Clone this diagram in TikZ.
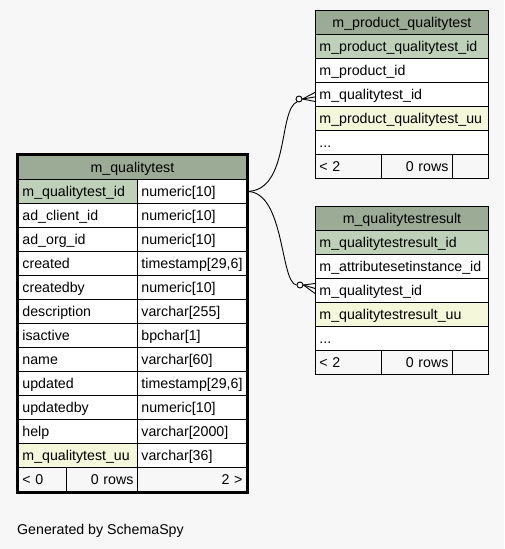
\documentclass[tikz,border=0pt]{standalone}
\usepackage{fontspec}
\setmainfont{Liberation Sans}
\usetikzlibrary{calc, fit}
\usetikzlibrary{positioning}
\definecolor{background}{HTML}{F7F7F7}
\definecolor{tablehead}{HTML}{9BAB96}
\definecolor{primarykey}{HTML}{BED1B8}
\definecolor{indexed}{HTML}{F4F7DA}
\tikzset{
  cell/.style={draw, line width=0.9pt, fill=white, anchor=north west, minimum height=24pt,
    inner xsep=4pt, inner ysep=0pt, text height=12pt, text depth=2pt, align=left},
  headcell/.style={cell, fill=tablehead, align=center},
  footcell/.style={cell, fill=background},
  dot/.style={circle, draw, line width=0.9pt, fill=white, inner sep=0pt, minimum size=6pt},
  conn/.style={line width=0.9pt}
}
% one column row of the main table
\newcommand\colrow[5]{
  \node[cell, fill=#5, minimum width=119pt, text width=111pt] (#2) at (18,#1) {#3};
  \node[cell, minimum width=109pt, text width=101pt] (#2type) at (137,#1) {#4};
}
% the two tables that refer to m_qualitytest
\newcommand\childtable[7]{
  \begin{scope}[xshift=#1, yshift=#2]
      \node[headcell, minimum width=173pt, text width=165pt] (#3head) at (0,0) {#4};
      \node[cell, fill=primarykey, minimum width=173pt, text width=165pt] (#3pk) at (0,24) {#5};
      \node[cell, minimum width=173pt, text width=165pt] (#3col) at (0,48) {#6};
      \node[cell, minimum width=173pt, text width=165pt] (#3qt) at (0,72) {m\_qualitytest\_id};
      \node[cell, fill=indexed, minimum width=173pt, text width=165pt] (#3uu) at (0,96) {#7};
      \node[cell, minimum width=173pt, text width=165pt] (#3more) at (0,120) {...};
      \node[footcell, minimum width=66pt, text width=58pt] (#3prev) at (0,144) {< 2};
      \node[footcell, minimum width=71pt, text width=63pt, align=right] (#3rows) at (66,144) {0 rows};
      \node[footcell, minimum width=36pt, text width=28pt] (#3next) at (137,144) {};
  \end{scope}
}

\begin{document}
\begin{tikzpicture}[x=1pt, y=-1pt, font=\fontsize{14.2}{16}\selectfont]
    \fill[background] (0,0) rectangle (504,549);
    \useasboundingbox (0,0) rectangle (504,549);

    \childtable{315pt}{-10pt}{pqt}{m\_product\_qualitytest}{m\_product\_qualitytest\_id}{m\_product\_id}{m\_product\_qualitytest\_uu}
    \childtable{315pt}{-206pt}{qtr}{m\_qualitytestresult}{m\_qualitytestresult\_id}{m\_attributesetinstance\_id}{m\_qualitytestresult\_uu}

    \node[headcell, minimum width=228pt, text width=220pt] (qthead) at (18,155) {m\_qualitytest};
    \colrow{179}{qtid}{m\_qualitytest\_id}{numeric[10]}{primarykey}
    \colrow{203}{qtclient}{ad\_client\_id}{numeric[10]}{white}
    \colrow{227}{qtorg}{ad\_org\_id}{numeric[10]}{white}
    \colrow{251}{qtcreated}{created}{timestamp[29,6]}{white}
    \colrow{275}{qtcreatedby}{createdby}{numeric[10]}{white}
    \colrow{299}{qtdesc}{description}{varchar[255]}{white}
    \colrow{323}{qtactive}{isactive}{bpchar[1]}{white}
    \colrow{347}{qtname}{name}{varchar[60]}{white}
    \colrow{371}{qtupdated}{updated}{timestamp[29,6]}{white}
    \colrow{395}{qtupdatedby}{updatedby}{numeric[10]}{white}
    \colrow{419}{qthelp}{help}{varchar[2000]}{white}
    \colrow{443}{qtuu}{m\_qualitytest\_uu}{varchar[36]}{indexed}
    \node[footcell, minimum width=48pt, text width=40pt] (qtprev) at (18,467) {< 0};
    \node[footcell, minimum width=71pt, text width=63pt, align=right] (qtrows) at (66,467) {0 rows};
    \node[footcell, minimum width=109pt, text width=101pt, align=right] (qtnext) at (137,467) {2 >};
    \node[draw, line width=2.5pt, inner sep=1.2pt, fit=(qthead)(qtnext)] (qtframe) {};

    \node[anchor=base west, inner sep=0pt] (genby) at (17,534) {Generated by SchemaSpy};

    % relationships
    \node[dot] (pqtdot) at (299,99) {};
    \node[dot] (qtrdot) at (300,285) {};
    \draw[conn] (qtidtype.east) .. controls (290,191) and (278,110) .. (pqtdot.235);
    \draw[conn] (qtidtype.east) .. controls (285,191) and (280,283) .. (qtrdot.180);
    \draw[conn] (pqtdot.east) -- ($(pqtqt.west)+(0,-2)$);
    \draw[conn] (pqtdot.east) -- ($(pqtqt.west)+(0,2.5)$);
    \draw[conn] (pqtdot.east) -- ($(pqtqt.west)+(0,7)$);
    \draw[conn] (qtrdot.east) -- ($(qtrqt.west)+(0,-7)$);
    \draw[conn] (qtrdot.east) -- ($(qtrqt.west)+(0,-2)$);
    \draw[conn] (qtrdot.east) -- ($(qtrqt.west)+(0,3)$);
\end{tikzpicture}
\end{document}
